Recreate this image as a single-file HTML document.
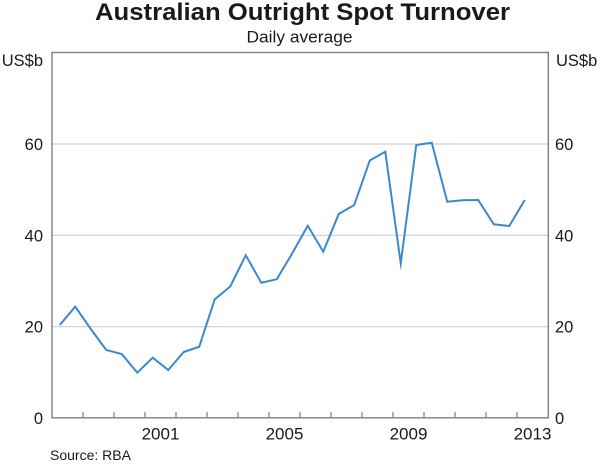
<!DOCTYPE html>
<html>
<head>
<meta charset="utf-8">
<style>
html,body{margin:0;padding:0;background:#fff;}
svg{display:block;}
text{font-family:"Liberation Sans",Arial,sans-serif;fill:#1a1a1a;}
</style>
</head>
<body>
<svg width="600" height="464" viewBox="0 0 600 464" xmlns="http://www.w3.org/2000/svg">
  <rect width="600" height="464" fill="#fff"/>
  <!-- title -->
  <text x="95" y="20" font-size="24" font-weight="bold" textLength="415" lengthAdjust="spacingAndGlyphs">Australian Outright Spot Turnover</text>
  <text x="246.5" y="42.5" font-size="17" textLength="106" lengthAdjust="spacingAndGlyphs">Daily average</text>

  <!-- gridlines -->
  <g stroke="#cfcfcf" stroke-width="1.2">
    <line x1="52" y1="144" x2="548" y2="144"/>
    <line x1="52" y1="235.3" x2="548" y2="235.3"/>
    <line x1="52" y1="326.7" x2="548" y2="326.7"/>
  </g>

  <!-- frame -->
  <rect x="52" y="52.5" width="496.3" height="365.3" fill="none" stroke="#7f7f7f" stroke-width="1.4"/>

  <!-- ticks -->
  <g stroke="#7f7f7f" stroke-width="1.2">
    <line x1="83" y1="418" x2="83" y2="412"/>
    <line x1="114" y1="418" x2="114" y2="412"/>
    <line x1="145" y1="418" x2="145" y2="412"/>
    <line x1="176" y1="418" x2="176" y2="412"/>
    <line x1="207" y1="418" x2="207" y2="412"/>
    <line x1="238" y1="418" x2="238" y2="412"/>
    <line x1="269" y1="418" x2="269" y2="412"/>
    <line x1="300" y1="418" x2="300" y2="412"/>
    <line x1="331" y1="418" x2="331" y2="412"/>
    <line x1="362" y1="418" x2="362" y2="412"/>
    <line x1="393" y1="418" x2="393" y2="412"/>
    <line x1="424" y1="418" x2="424" y2="412"/>
    <line x1="455" y1="418" x2="455" y2="412"/>
    <line x1="486" y1="418" x2="486" y2="412"/>
    <line x1="517" y1="418" x2="517" y2="412"/>
  </g>

  <!-- series -->
  <polyline fill="none" stroke="#3a89cf" stroke-width="2" stroke-linejoin="miter" stroke-miterlimit="10"
    points="59.75,325 75.25,306.7 90.75,329 106.25,350 121.75,354 137.25,372.7 152.75,357.7 168.25,370 183.75,352 199.25,346.7 214.75,299.3 230.25,286.5 245.75,255.3 261.25,282.7 276.75,279.3 292.25,253.3 307.75,225.7 323.25,251.7 338.75,214 354.25,205 369.75,160.5 385.25,151.7 400.75,263.3 416.25,145 431.75,142.7 447.25,201.7 462.75,200.3 478.25,200 493.75,224.3 509.25,226 524.75,200"/>

  <!-- left axis labels -->
  <g font-size="16.5" text-anchor="end">
    <text x="43" y="66">US$b</text>
    <text x="43" y="150">60</text>
    <text x="43" y="241.3">40</text>
    <text x="43" y="332.7">20</text>
    <text x="43" y="424">0</text>
  </g>
  <!-- right axis labels -->
  <g font-size="16.5" text-anchor="start">
    <text x="556" y="66">US$b</text>
    <text x="555" y="150">60</text>
    <text x="555" y="241.3">40</text>
    <text x="555" y="332.7">20</text>
    <text x="555" y="424">0</text>
  </g>

  <!-- x labels -->
  <g font-size="17" text-anchor="middle">
    <text x="160.5" y="439.5">2001</text>
    <text x="284.5" y="439.5">2005</text>
    <text x="408.5" y="439.5">2009</text>
    <text x="532.5" y="439.5">2013</text>
  </g>

  <text x="50" y="460" font-size="14">Source: RBA</text>
</svg>
</body>
</html>
